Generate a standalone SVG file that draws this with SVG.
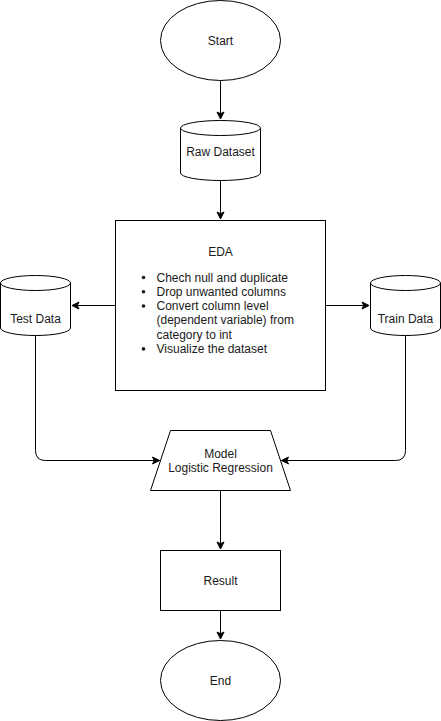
<svg xmlns="http://www.w3.org/2000/svg" width="441" height="721" viewBox="0 0 441 721">
<defs>
<style>
.shape{fill:#ffffff;stroke:#000000;stroke-width:1}
.edge{fill:none;stroke:#000000;stroke-width:1}
text{font-family:"Liberation Sans",Arial,Helvetica,sans-serif;font-size:12px;fill:#1a1a1a}
.c{text-anchor:middle}
</style>
<marker id="arrow" markerUnits="userSpaceOnUse" markerWidth="10" markerHeight="10" viewBox="-8 -5 10 10" refX="0" refY="0" orient="auto">
<path d="M0,0 L-7,-3.5 L-5.25,0 L-7,3.5 Z" fill="#000000" stroke="#000000" stroke-width="1"/>
</marker>
</defs>
<rect width="441" height="721" fill="#ffffff"/>
<g id="connectors">
<path class="edge" d="M220.5,80.5 L220.5,119" marker-end="url(#arrow)"/>
<path class="edge" d="M220.5,180.5 L220.5,219" marker-end="url(#arrow)"/>
<path class="edge" d="M115.5,305.5 L72,305.5" marker-end="url(#arrow)"/>
<path class="edge" d="M325.5,305.5 L369,305.5" marker-end="url(#arrow)"/>
<path class="edge" d="M35.5,335.5 L35.5,450.5 Q35.5,460.5 45.5,460.5 L159.5,460.5" marker-end="url(#arrow)"/>
<path class="edge" d="M405.5,335.5 L405.5,450.5 Q405.5,460.5 395.5,460.5 L281.5,460.5" marker-end="url(#arrow)"/>
<path class="edge" d="M220.5,490.5 L220.5,549" marker-end="url(#arrow)"/>
<path class="edge" d="M220.5,610.5 L220.5,639" marker-end="url(#arrow)"/>
</g>
<g id="start">
<ellipse class="shape" cx="220.5" cy="40.5" rx="60" ry="40"/>
<text class="c" x="220.5" y="45">Start</text>
</g>
<g id="raw-dataset">
<path class="shape" d="M180.5,128 A40,7.5 0 0 1 260.5,128 L260.5,173 A40,7.5 0 0 1 180.5,173 Z"/>
<path class="edge" d="M180.5,128 A40,7.5 0 0 0 260.5,128"/>
<text class="c" x="220.5" y="156">Raw Dataset</text>
</g>
<g id="eda">
<rect class="shape" x="115.5" y="220.5" width="210" height="170"/>
<text class="c" x="220.5" y="256">EDA</text>
<circle cx="143.5" cy="277.5" r="1.8" fill="#1a1a1a"/>
<text x="156.5" y="281.5">Chech null and duplicate</text>
<circle cx="143.5" cy="291.8" r="1.8" fill="#1a1a1a"/>
<text x="156.5" y="295.8">Drop unwanted columns</text>
<circle cx="143.5" cy="306" r="1.8" fill="#1a1a1a"/>
<text x="156.5" y="310">Convert column level</text>
<text x="156.5" y="324.3">(dependent variable) from</text>
<text x="156.5" y="338.6">category to int</text>
<circle cx="143.5" cy="348.9" r="1.8" fill="#1a1a1a"/>
<text x="156.5" y="352.9">Visualize the dataset</text>
</g>
<g id="test-data">
<path class="shape" d="M0.5,283 A35,7.5 0 0 1 70.5,283 L70.5,328 A35,7.5 0 0 1 0.5,328 Z"/>
<path class="edge" d="M0.5,283 A35,7.5 0 0 0 70.5,283"/>
<text class="c" x="35.5" y="323">Test Data</text>
</g>
<g id="train-data">
<path class="shape" d="M370.5,283 A35,7.5 0 0 1 440.5,283 L440.5,328 A35,7.5 0 0 1 370.5,328 Z"/>
<path class="edge" d="M370.5,283 A35,7.5 0 0 0 440.5,283"/>
<text class="c" x="405.5" y="323">Train Data</text>
</g>
<g id="model">
<polygon class="shape" points="170.5,430.5 270.5,430.5 290.5,490.5 150.5,490.5"/>
<text class="c" x="220.5" y="458">Model</text>
<text class="c" x="220.5" y="472">Logistic Regression</text>
</g>
<g id="result">
<rect class="shape" x="160.5" y="550.5" width="120" height="60"/>
<text class="c" x="220.5" y="585">Result</text>
</g>
<g id="end">
<ellipse class="shape" cx="220.5" cy="680.5" rx="60" ry="40"/>
<text class="c" x="220.5" y="685">End</text>
</g>
</svg>
